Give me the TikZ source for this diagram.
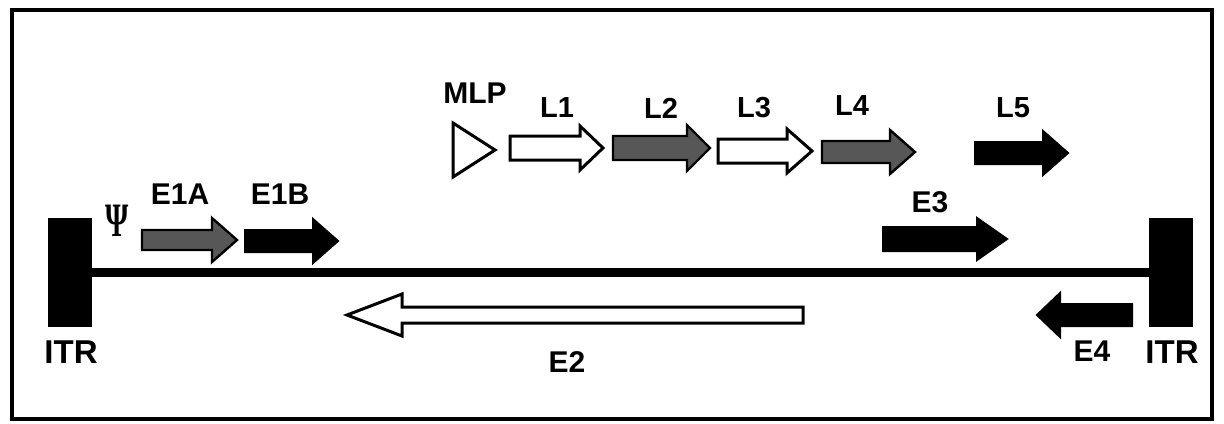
\documentclass[tikz,border=0pt]{standalone}
\usepackage{graphicx}
\usepackage{fontspec}
\setmainfont{Liberation Sans}
\newfontfamily\psifont{Liberation Serif}
% gene arrow: style, x-tail, x-headbase, x-tip, y, half body, half head
\newcommand\genearrow[7]{%
  \path[#1] (#2,#5-#6) -- (#3,#5-#6) -- (#3,#5-#7) -- (#4,#5) -- (#3,#5+#7)
    -- (#3,#5+#6) -- (#2,#5+#6) -- cycle;}
\begin{document}
\begin{tikzpicture}[x=0.5pt,y=-0.5pt,
  lbl/.style={font=\bfseries\fontsize{15}{17}\selectfont, inner sep=0pt},
  lbll/.style={font=\bfseries\fontsize{14.5}{16}\selectfont, inner sep=0pt},
  lblitr/.style={font=\bfseries\fontsize{16.5}{18}\selectfont, inner sep=0pt},
  itr/.style={fill=black, draw=none, minimum width=22pt, minimum height=54.5pt, inner sep=0pt},
  blackgene/.style={fill=black, draw=black, line width=1pt, line join=miter},
  graygene/.style={fill=black!66, draw=black, line width=1.2pt, line join=miter},
  whitegene/.style={fill=white, draw=black, line width=1.5pt, line join=miter},
  frame/.style={draw=black, line width=2pt}]
\useasboundingbox (0,0) rectangle (1224,423);
\draw[frame] (12,10) rectangle (1212,419);

% ITRs and genome line
\node[itr] (itrL) at (70,272.5) {};
\node[itr] (itrR) at (1171,272.5) {};
\draw[line width=4.8pt] (itrL.east) -- (itrR.west);
\node[lblitr] (itrLl) at (71,352) {ITR};
\node[lblitr] (itrRl) at (1172,352) {ITR};

% early region
\node[font=\psifont\bfseries\fontsize{24}{26}\selectfont, inner sep=0pt] (psi) at (117,221) {\scalebox{0.62}[1]{Ψ}};
\genearrow{graygene}{142}{212}{237}{240}{10}{22}
\genearrow{blackgene}{245}{313}{338}{241}{11}{22}
\node[lbl] (e1a) at (180,194) {E1A};
\node[lbl] (e1b) at (280,194) {E1B};

% late region
\node[lbl] (mlp) at (475,93) {MLP};
\path[whitegene] (453,123) -- (495,150) -- (453,177) -- cycle;
\genearrow{whitegene}{510}{580}{603}{148}{12}{22}
\genearrow{graygene}{613}{687}{710}{148}{12}{23}
\genearrow{whitegene}{718}{787}{812}{151}{12}{22}
\genearrow{graygene}{822}{890}{915}{152}{11}{22}
\genearrow{blackgene}{975}{1043}{1068}{153}{11}{22}
\node[lbll] (l1) at (557,108) {L1};
\node[lbll] (l2) at (661,108) {L2};
\node[lbll] (l3) at (754,108) {L3};
\node[lbll] (l4) at (852,106) {L4};
\node[lbll] (l5) at (1013,108) {L5};

% E3
\genearrow{blackgene}{883}{977}{1007}{239}{12}{21}
\node[lbl] (e3) at (930,202) {E3};

% E2 and E4 (leftward)
\genearrow{whitegene}{803}{402}{347}{315}{8}{21}
\node[lbl] (e2) at (567,362) {E2};
\genearrow{blackgene}{1132}{1060}{1037}{315}{11}{22}
\node[lbl] (e4) at (1092,351) {E4};
\end{tikzpicture}
\end{document}
